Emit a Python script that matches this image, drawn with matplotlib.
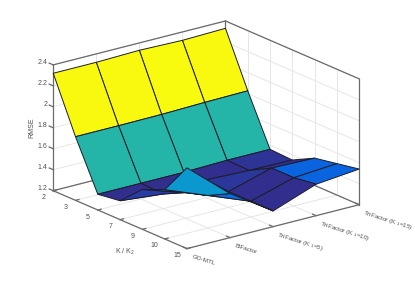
import numpy as np
import matplotlib
matplotlib.use("Agg")
import matplotlib.pyplot as plt
from matplotlib.colors import LinearSegmentedColormap, Normalize
from mpl_toolkits.mplot3d import proj3d

k_labels = ["2", "3", "5", "7", "9", "10", "15"]
method_labels = ["GO-MTL", "BiFactor", r"TriFactor (K$_{\ 1}$=5)",
                 r"TriFactor (K$_{\ 1}$=10)", r"TriFactor (K$_{\ 1}$=15)"]
z_ticks = [1.2, 1.4, 1.6, 1.8, 2.0, 2.2, 2.4]
z_tick_labels = ["1.2", "1.4", "1.6", "1.8", "2", "2.2", "2.4"]

rmse_go_mtl = [2.32, 1.807, 1.35, 1.38, 1.58, 1.67, 1.97]
rmse_bifactor = [2.32, 1.807, 1.35, 1.34, 1.445, 1.51, 1.62]
rmse_tri5 = [2.33, 1.81, 1.35, 1.37, 1.35, 1.35, 1.35]
rmse_tri10 = [2.32, 1.82, 1.36, 1.355, 1.47, 1.47, 1.50]
rmse_tri15 = [2.33, 1.826, 1.36, 1.35, 1.46, 1.50, 1.54]

plt.rcParams["font.family"] = ["Liberation Sans", "DejaVu Sans"]
plt.rcParams["mathtext.default"] = "regular"

W, H = 415, 281
AX_PX = 326.6
fig = plt.figure(figsize=(W / 100, H / 100), dpi=100)
ax = fig.add_axes([38.5 / W, -21.5 / H, AX_PX / W, AX_PX / H],
                  projection="3d", proj_type="ortho", computed_zorder=False)
ax.view_init(elev=19.4, azim=-37.5)
ax.set_box_aspect((220, 217.4, 133.6))
ax.set_axis_off()

nx, ny = len(k_labels), len(method_labels)
xs, ys = np.arange(nx), np.arange(ny)
xlo, xhi, ylo, yhi = 0, nx - 1, 0, ny - 1
zlo, zhi = z_ticks[0], z_ticks[-1]
ax.set_xlim(xlo, xhi)
ax.set_ylim(ylo, yhi)
ax.set_zlim(zlo, zhi)

Z = np.array([rmse_go_mtl, rmse_bifactor, rmse_tri5, rmse_tri10, rmse_tri15])
X, Y = np.meshgrid(xs, ys)

GRID = dict(color="#e6e6e6", lw=0.7, zorder=1)
AXIS = dict(color="#6a6a6a", lw=0.9, zorder=2)
TEXT = dict(color="#505050", fontsize=5.0)
TEXT_SMALL = dict(color="#505050", fontsize=4.5)

# grid on the floor and the two back walls
for x in xs:
    ax.plot([x, x], [ylo, yhi], [zlo, zlo], **GRID)
    ax.plot([x, x], [yhi, yhi], [zlo, zhi], **GRID)
for y in ys:
    ax.plot([xlo, xhi], [y, y], [zlo, zlo], **GRID)
    ax.plot([xlo, xlo], [y, y], [zlo, zhi], **GRID)
for z in z_ticks:
    ax.plot([xlo, xlo], [ylo, yhi], [z, z], **GRID)
    ax.plot([xlo, xhi], [yhi, yhi], [z, z], **GRID)

# box
for seg in [([xlo, xhi], [ylo, ylo], [zlo, zlo]),
            ([xhi, xhi], [ylo, yhi], [zlo, zlo]),
            ([xlo, xhi], [yhi, yhi], [zlo, zlo]),
            ([xlo, xlo], [ylo, yhi], [zlo, zlo]),
            ([xlo, xlo], [ylo, ylo], [zlo, zhi]),
            ([xhi, xhi], [yhi, yhi], [zlo, zhi]),
            ([xlo, xlo], [yhi, yhi], [zlo, zhi]),
            ([xlo, xlo], [ylo, yhi], [zhi, zhi]),
            ([xlo, xhi], [yhi, yhi], [zhi, zhi])]:
    ax.plot(*seg, **AXIS)

# ticks
for z in z_ticks:
    ax.plot([xlo, xlo - 0.18], [ylo, ylo], [z, z], **AXIS)
for x in xs:
    ax.plot([x, x], [ylo, ylo + 0.08], [zlo, zlo], **AXIS)
for y in ys:
    ax.plot([xhi, xhi - 0.16], [y, y], [zlo, zlo], **AXIS)

# surface: flat faces coloured from each cell's first vertex
parula = LinearSegmentedColormap.from_list(
    "parula_like",
    [(0.00, "#352a87"), (0.12, "#0a62e0"), (0.20, "#0a70e0"), (0.33, "#0a97d0"),
     (0.46, "#25b5a8"), (0.50, "#25b5a8"), (0.60, "#87bf77"), (0.70, "#d1bb59"),
     (0.80, "#fec832"), (1.00, "#f9fb0e")])
colors = parula(Normalize(Z.min(), Z.max())(Z))
ax.plot_surface(X, Y, Z, facecolors=colors, rstride=1, cstride=1, shade=False,
                edgecolor="#1c1c2a", linewidth=0.7, antialiased=True, zorder=3)

# tick labels: place at the projected position of each tick
fig.canvas.draw()
proj = ax.get_proj()


def label_at(x, y, z, s, dx=0, dy=0, **kw):
    px, py, _ = proj3d.proj_transform(x, y, z, proj)
    u, v = ax.transData.transform((px, py))
    fig.text((u + dx) / W, (v + dy) / H, s, **kw)


for z, s in zip(z_ticks, z_tick_labels):
    label_at(xlo, ylo, z, s, dx=-6, dy=2, ha="right", va="center", **TEXT)
for x, s in zip(xs, k_labels):
    label_at(x, ylo, zlo, s, dx=-10, dy=-7, ha="center", va="center", **TEXT)
for y, s in zip(ys, method_labels):
    label_at(xhi, y, zlo, s, dx=5, dy=-7, ha="left", va="center_baseline",
             rotation=-17.5, rotation_mode="anchor", **TEXT_SMALL)

fig.text(32 / W, 1 - 128 / H, "RMSE", rotation=90, ha="center", va="center", **TEXT)
fig.text(125 / W, 1 - 252 / H, r"K / K$_{2}$", ha="center", va="center", **TEXT)

fig.savefig("out.png", dpi=100)
